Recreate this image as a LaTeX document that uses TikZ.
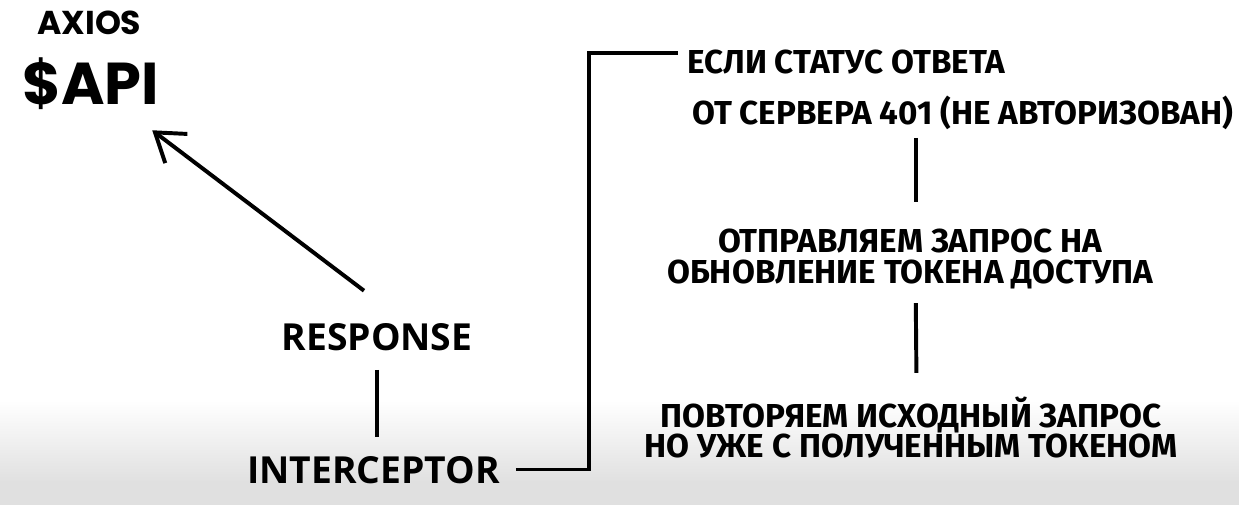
\documentclass[tikz,border=0pt]{standalone}
\usepackage{fontspec}
\setmainfont{Fira Sans}
\newfontfamily\popfont{Poppins}
\newfontfamily\opfont{Open Sans}
\usetikzlibrary{arrows.meta}

\begin{document}
\begin{tikzpicture}[x=0.025cm,y=-0.025cm,text depth=0pt,inner sep=0pt,
  link/.style={line width=2.8pt},
  ru/.style={font=\fontsize{23.6}{21.5}\selectfont\bfseries},
  en/.style={font=\fontsize{26.5}{28}\selectfont\opfont\bfseries}]
\useasboundingbox (0,0) rectangle (1239,505);
\fill[white] (0,0) rectangle (1239,505);
\shade[top color=white,bottom color=black!12] (0,400) rectangle (1239,482);
\fill[black!12] (0,481) rectangle (1239,505);

\node[anchor=base west,font=\fontsize{23.5}{26}\selectfont\popfont\bfseries] (axios) at (37,35) {AXIOS};
\node[anchor=base west,font=\fontsize{42}{46}\selectfont\popfont\bfseries] (api)   at (22,105) {\$API};

\node[en,anchor=base] (resp) at (377,350) {RESPONSE};
\node[en,anchor=base west] (icpt) at (247,483) {INTERCEPTOR};

\node[ru,anchor=base west] (status1) at (687,74)  {ЕСЛИ СТАТУС ОТВЕТА};
\node[ru,anchor=base west] (status2) at (692,125) {ОТ СЕРВЕРА 401 (НЕ АВТОРИЗОВАН)};
\node[ru,align=center,anchor=north] (refresh) at (910,229) {ОТПРАВЛЯЕМ ЗАПРОС НА\\ОБНОВЛЕНИЕ ТОКЕНА ДОСТУПА};
\node[ru,align=center,anchor=south] (retry)   at (911,458) {ПОВТОРЯЕМ ИСХОДНЫЙ ЗАПРОС\\НО УЖЕ С ПОЛУЧЕННЫМ ТОКЕНОМ};

\draw[link,-{Straight Barb[length=19pt,width=26pt]}]
  ([shift={(-13,-32)}]resp.north) -- ([shift={(-7,25)}]api.south east);
\draw[link,shorten <=14pt,shorten >=13.5pt] (resp.south) -- (icpt.north -| resp.south);
\draw[link] ([xshift=11pt]icpt.east) -| ([shift={(-98,-21)}]status1.base west) -- ([shift={(-9,-21)}]status1.base west);
\draw[link,shorten <=9pt,shorten >=19pt] ([xshift=4pt]status2.south -| refresh.north) -- ([xshift=4pt]refresh.north);
\draw[link,shorten <=14pt,shorten >=17pt] ([xshift=4pt]refresh.south) -- ([xshift=4pt]retry.north);
\end{tikzpicture}
\end{document}
